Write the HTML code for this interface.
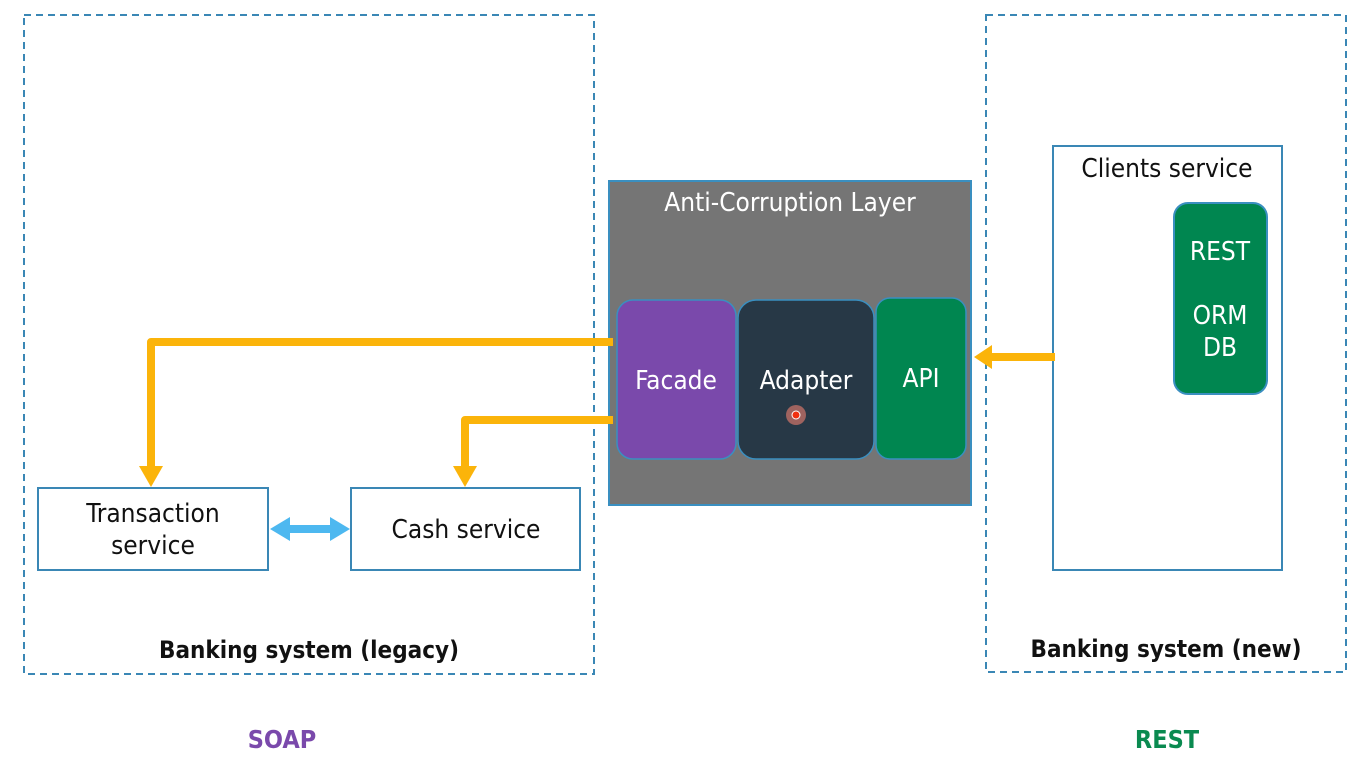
<!DOCTYPE html>
<html><head><meta charset="utf-8"><style>
html,body{margin:0;padding:0;background:#fff;width:1358px;height:775px;overflow:hidden}
svg{display:block}
text{font-family:"DejaVu Sans Condensed","Liberation Sans",sans-serif}
</style></head><body>
<svg width="1358" height="775" viewBox="0 0 1358 775" xmlns="http://www.w3.org/2000/svg">
<rect x="24" y="15" width="570" height="659" fill="none" stroke="#3a87b5" stroke-width="2" stroke-dasharray="7,5"/>
<rect x="986" y="15" width="360" height="657" fill="none" stroke="#3a87b5" stroke-width="2" stroke-dasharray="7,5"/>
<rect x="609" y="181" width="362" height="324" fill="#757575" stroke="#3a8fc0" stroke-width="2"/>
<text x="790" y="211" font-size="26" fill="#fff" text-anchor="middle">Anti-Corruption Layer</text>
<rect x="617" y="300" width="119" height="159" rx="16" fill="#7a49ab" stroke="#3a8fc0" stroke-width="1.5"/>
<rect x="738" y="300" width="136" height="159" rx="18" fill="#273846" stroke="#3a8fc0" stroke-width="1.5"/>
<rect x="876" y="298" width="90" height="161" rx="14" fill="#008650" stroke="#3a8fc0" stroke-width="1.5"/>
<text x="676" y="389" font-size="26" fill="#fff" text-anchor="middle">Facade</text>
<text x="806" y="389" font-size="26" fill="#fff" text-anchor="middle">Adapter</text>
<text x="921" y="387" font-size="26" fill="#fff" text-anchor="middle">API</text>
<circle cx="796" cy="415" r="10" fill="#f08070" opacity="0.6"/>
<circle cx="796" cy="415" r="4" fill="#f03010" stroke="#fff" stroke-width="1"/>
<rect x="1053" y="146" width="229" height="424" fill="#fff" stroke="#3a87b5" stroke-width="2"/>
<text x="1167" y="177" font-size="26" fill="#111" text-anchor="middle">Clients service</text>
<rect x="1174" y="203" width="93" height="191" rx="14" fill="#008650" stroke="#3a8fc0" stroke-width="2"/>
<text x="1220" y="260" font-size="26" fill="#fff" text-anchor="middle">REST</text>
<text x="1220" y="324" font-size="26" fill="#fff" text-anchor="middle">ORM</text>
<text x="1220" y="356" font-size="26" fill="#fff" text-anchor="middle">DB</text>
<rect x="38" y="488" width="230" height="82" fill="#fff" stroke="#3a87b5" stroke-width="2"/>
<rect x="351" y="488" width="229" height="82" fill="#fff" stroke="#3a87b5" stroke-width="2"/>
<text x="153" y="522" font-size="26" fill="#111" text-anchor="middle">Transaction</text>
<text x="153" y="554" font-size="26" fill="#111" text-anchor="middle">service</text>
<text x="466" y="538" font-size="26" fill="#111" text-anchor="middle">Cash service</text>
<g fill="none" stroke="#fbb40a" stroke-width="8" stroke-linejoin="round">
<polyline points="613,342 151,342 151,468"/>
<polyline points="613,420 465,420 465,468"/>
<line x1="1055" y1="357" x2="990" y2="357"/>
</g>
<g fill="#fbb40a">
<polygon points="139,466 163,466 151,487"/>
<polygon points="453,466 477,466 465,487"/>
<polygon points="992,345 992,369 974,357"/>
</g>
<line x1="285" y1="529" x2="335" y2="529" stroke="#4db8f0" stroke-width="8"/>
<polygon points="270,529 290,517 290,541" fill="#4db8f0"/>
<polygon points="350,529 330,517 330,541" fill="#4db8f0"/>
<text x="309" y="658" font-size="24" font-weight="bold" fill="#111" text-anchor="middle">Banking system (legacy)</text>
<text x="1166" y="657" font-size="24" font-weight="bold" fill="#111" text-anchor="middle">Banking system (new)</text>
<text x="282" y="748" font-size="25" font-weight="bold" fill="#7a49ab" text-anchor="middle">SOAP</text>
<text x="1167" y="748" font-size="25" font-weight="bold" fill="#0a8a50" text-anchor="middle">REST</text>
</svg>
</body></html>
